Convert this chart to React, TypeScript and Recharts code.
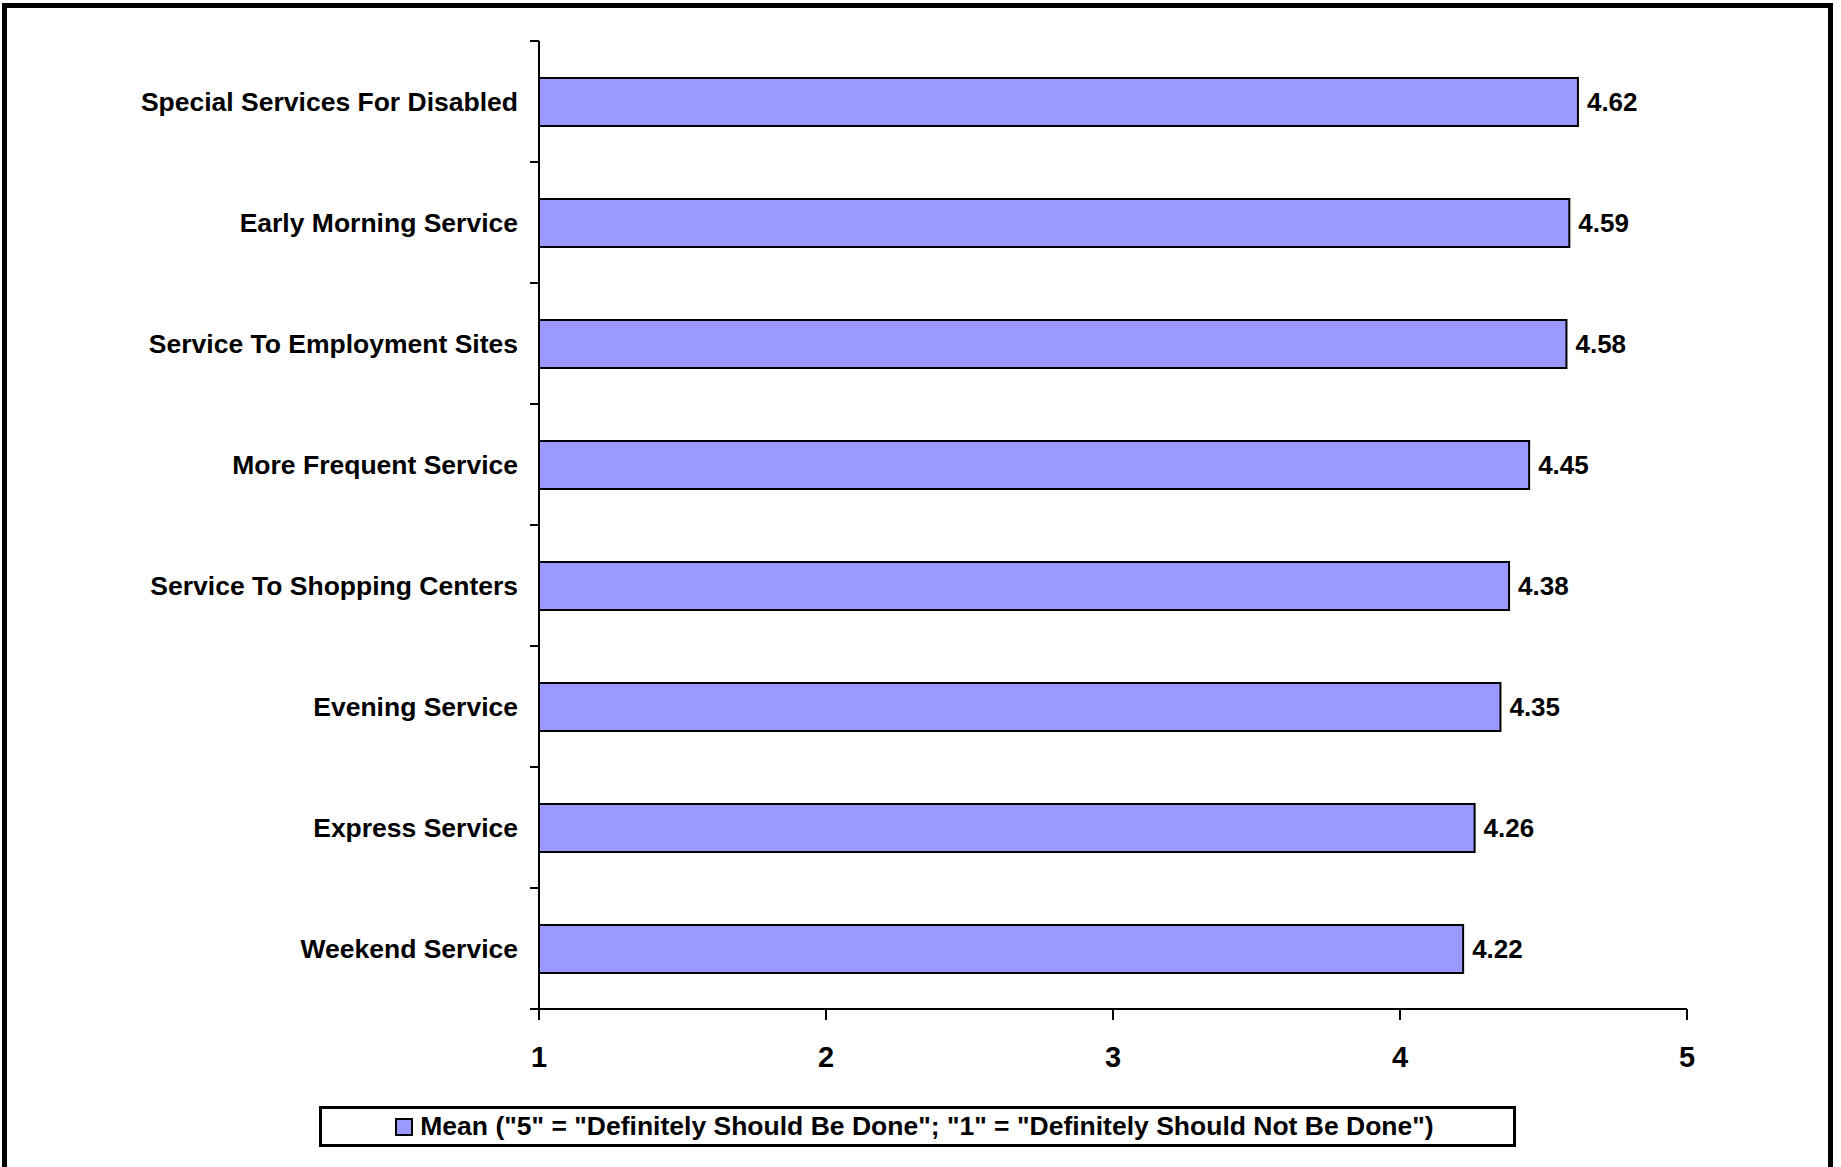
import { BarChart, Bar, XAxis, YAxis, LabelList, Legend } from 'recharts';

const categories = [
  'Special Services For Disabled',
  'Early Morning Service',
  'Service To Employment Sites',
  'More Frequent Service',
  'Service To Shopping Centers',
  'Evening Service',
  'Express Service',
  'Weekend Service'
];
const meanValues = [4.62, 4.59, 4.58, 4.45, 4.38, 4.35, 4.26, 4.22];
const xTicks = [1, 2, 3, 4, 5];
const seriesName = 'Mean ("5" = "Definitely Should Be Done"; "1" = "Definitely Should Not Be Done")';

const FONT = '"Liberation Sans", Arial, sans-serif';
const BAR_FILL = '#9999FF';

const data = categories.map((name, i) => ({ name, mean: meanValues[i] }));

function CategoryTick(props: any) {
  const { x, y, payload, index, visibleTicksCount } = props;
  const half = payload.offset || 0;
  const axisX = x + 21;
  return (
    <g>
      <line x1={axisX - 9} x2={axisX} y1={y - half} y2={y - half} stroke="#000" strokeWidth={2} />
      {index === visibleTicksCount - 1 && (
        <line x1={axisX - 9} x2={axisX} y1={y + half} y2={y + half} stroke="#000" strokeWidth={2} />
      )}
      <text x={x} y={y} dy="0.35em" textAnchor="end" fontFamily={FONT} fontWeight="bold" fontSize={26.5} fill="#000">
        {payload.value}
      </text>
    </g>
  );
}

function LegendBox() {
  return (
    <div
      style={{
        boxSizing: 'border-box',
        width: '100%',
        height: '100%',
        border: '3px solid #000',
        background: '#fff',
        display: 'flex',
        alignItems: 'center',
        justifyContent: 'center',
        fontFamily: FONT,
        fontWeight: 'bold',
        fontSize: 26.5,
        color: '#000',
        paddingRight: 6
      }}
    >
      <span
        style={{
          display: 'inline-block',
          boxSizing: 'border-box',
          width: 18,
          height: 18,
          background: BAR_FILL,
          border: '2px solid #000',
          marginRight: 7
        }}
      />
      <span>{seriesName}</span>
    </div>
  );
}

export default function App() {
  return (
    <div
      style={{
        position: 'absolute',
        left: 0,
        top: 0,
        width: 1841,
        height: 1167,
        background: '#fff',
        overflow: 'hidden'
      }}
    >
      <div
        style={{
          position: 'absolute',
          left: 2,
          top: 3,
          width: 1831,
          height: 1220,
          boxSizing: 'border-box',
          border: '5px solid #000'
        }}
      />
      <div style={{ position: 'absolute', left: 0, top: 0 }}>
        <BarChart
          width={1841}
          height={1167}
          data={data}
          layout="vertical"
          margin={{ top: 41, right: 154, bottom: 98, left: 0 }}
        >
          <XAxis
            type="number"
            domain={[1, 5]}
            ticks={xTicks}
            height={60}
            tickSize={11}
            tickMargin={26}
            axisLine={{ stroke: '#000', strokeWidth: 2 }}
            tickLine={{ stroke: '#000', strokeWidth: 2 }}
            tick={{ fill: '#000', fontFamily: FONT, fontWeight: 'bold', fontSize: 29 }}
          />
          <YAxis
            type="category"
            dataKey="name"
            width={539}
            tickLine={false}
            tickSize={9}
            tickMargin={12}
            axisLine={{ stroke: '#000', strokeWidth: 2 }}
            tick={<CategoryTick />}
            interval={0}
          />
          <Legend
            layout="horizontal"
            verticalAlign="middle"
            align="center"
            wrapperStyle={{ left: 319, top: 1106, width: 1197, height: 41 }}
            content={() => <LegendBox />}
          />
          <Bar
            dataKey="mean"
            name={seriesName}
            fill={BAR_FILL}
            stroke="#000"
            strokeWidth={2}
            barSize={48}
            isAnimationActive={false}
          >
            <LabelList
              dataKey="mean"
              position="right"
              offset={9}
              fill="#000"
              fontFamily={FONT}
              fontWeight="bold"
              fontSize={26}
              formatter={(v: any) => Number(v).toFixed(2)}
            />
          </Bar>
        </BarChart>
      </div>
    </div>
  );
}
